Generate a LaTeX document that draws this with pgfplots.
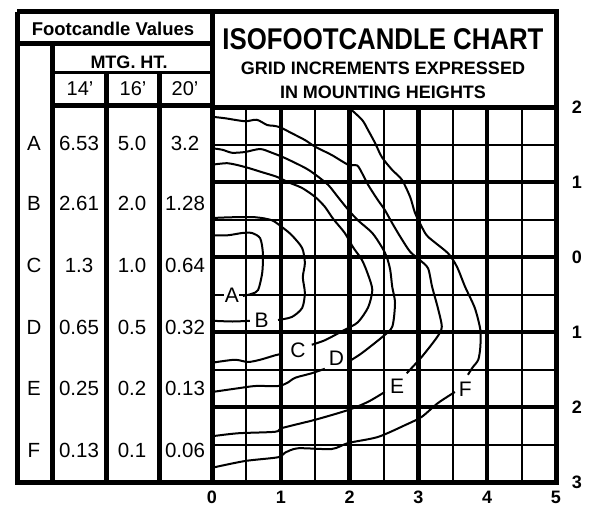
\documentclass[border=0pt]{standalone}
\usepackage{graphicx}
\usepackage{pgfplots}
\pgfplotsset{compat=1.18}
\usepackage{fontspec}
\setmainfont{Liberation Sans}
\newcommand{\fs}[1]{\fontsize{#1}{#1}\selectfont}
\begin{document}
\begin{tikzpicture}
\fill[white] (0,0) rectangle (593pt,-508pt);
\useasboundingbox (0,0) rectangle (593pt,-508pt);
\begin{axis}[
  scale only axis, width=344pt, height=375pt,
  at={(212pt,-482pt)}, anchor=south west,
  xmin=0, xmax=5, ymin=-3, ymax=2,
  xtick={0,1,2,3,4,5}, xticklabels={0,1,2,3,4,5},
  ytick={-3,-2,-1,0,1,2}, yticklabels={3,2,1,0,1,2},
  minor xtick={0.5,1.5,2.5,3.5,4.5},
  minor ytick={-2.5,-1.5,-0.5,0.5,1.5},
  grid=both,
  major grid style={line width=4.5pt, black},
  minor grid style={line width=2pt, black},
  axis line style={line width=5pt, black},
  tick style={draw=none},
  yticklabel pos=right,
  /pgf/number format/assume math mode=true,
  ticklabel style={font=\bfseries\fs{18}},
  xticklabel style={anchor=center, yshift=-15pt},
  yticklabel style={anchor=center, xshift=21pt},
  ct/.style={line width=2pt, black, solid, smooth, tension=0.45, mark=none},
]
% A
\addplot[ct] coordinates {(0,0.29) (0.23,0.29) (0.44,0.32) (0.58,0.32) (0.70,0.25) (0.74,0.05) (0.73,-0.21) (0.67,-0.44) (0.58,-0.49) (0.45,-0.52)};
\addplot[ct] coordinates {(0,-0.51) (0.11,-0.51)};
% B
\addplot[ct] coordinates {(0,0.52) (0.29,0.53) (0.63,0.53) (0.87,0.49) (1.03,0.39) (1.16,0.29) (1.31,0.12) (1.35,-0.08) (1.32,-0.27) (1.35,-0.48) (1.31,-0.68) (1.16,-0.80) (0.96,-0.84)};
\addplot[ct] coordinates {(0,-0.85) (0.3,-0.86) (0.55,-0.85)};
% C
\addplot[ct] coordinates {(0,1.23) (0.23,1.25) (0.48,1.20) (0.73,1.13) (0.94,1.07) (1.10,1.00) (1.31,0.92) (1.50,0.80) (1.64,0.67) (1.76,0.51) (1.93,0.32) (2.05,0.13) (2.18,-0.04) (2.27,-0.24) (2.33,-0.44) (2.27,-0.67) (2.12,-0.87) (1.93,-0.97) (1.64,-1.11) (1.45,-1.17)};
\addplot[ct] coordinates {(1.02,-1.29) (0.92,-1.31) (0.70,-1.37) (0.52,-1.40) (0.33,-1.37) (0,-1.41)};
% D
\addplot[ct] coordinates {(0,1.45) (0.15,1.43) (0.29,1.39) (0.48,1.40) (0.70,1.44) (0.87,1.39) (1.06,1.32) (1.35,1.19) (1.50,1.10) (1.69,0.96) (1.83,0.80) (1.98,0.63) (2.12,0.49) (2.33,0.32) (2.47,0.13) (2.54,0) (2.59,-0.17) (2.62,-0.40) (2.66,-0.61) (2.62,-0.93) (2.47,-1.07) (2.18,-1.28) (2.03,-1.37)};
\addplot[ct] coordinates {(1.64,-1.49) (1.45,-1.55) (1.21,-1.61) (1.09,-1.68) (0.96,-1.72) (0.63,-1.72) (0.38,-1.75) (0,-1.80)};
% E
\addplot[ct] coordinates {(0,1.87) (0.19,1.85) (0.48,1.81) (0.65,1.83) (0.80,1.76) (0.89,1.75) (0.99,1.73) (1.16,1.65) (1.35,1.56) (1.50,1.47) (1.74,1.36) (1.98,1.23) (2.11,1.22) (2.18,1.12) (2.27,0.96) (2.41,0.76) (2.51,0.63) (2.62,0.45) (2.75,0.25) (2.88,0.07) (3.02,-0.04) (3.14,-0.15) (3.20,-0.40) (3.28,-0.67) (3.34,-0.93) (3.27,-1.07) (3.05,-1.33) (2.83,-1.55)};
\addplot[ct] coordinates {(2.51,-1.80) (2.27,-1.93) (1.98,-2.04) (1.50,-2.17) (1.02,-2.28) (0.92,-2.33) (0.38,-2.35) (0,-2.39)};
% F
\addplot[ct] coordinates {(1.98,2.0) (2.18,1.83) (2.27,1.69) (2.37,1.52) (2.47,1.33) (2.62,1.16) (2.76,1.03) (2.88,0.80) (2.95,0.59) (3.05,0.40) (3.14,0.27) (3.43,0.05) (3.56,-0.13) (3.68,-0.40) (3.82,-0.68) (3.90,-0.97) (3.90,-1.20) (3.87,-1.37) (3.79,-1.47) (3.72,-1.57)};
\addplot[ct] coordinates {(3.53,-1.80) (3.28,-1.95) (3.05,-2.13) (2.81,-2.24) (2.41,-2.40) (1.98,-2.48) (1.74,-2.56) (1.25,-2.55) (1.06,-2.61) (0.96,-2.67) (0.48,-2.72) (0,-2.81)};
% labels
\begin{scope}[every node/.style={fill=white, inner sep=0.5pt, font=\fs{21}}]
\node at (axis cs:0.29,-0.51) {A};
\node at (axis cs:0.72,-0.85) {B};
\node at (axis cs:1.25,-1.25) {C};
\node at (axis cs:1.81,-1.35) {D};
\node at (axis cs:2.69,-1.73) {E};
\node at (axis cs:3.68,-1.77) {F};
\end{scope}
\end{axis}
\begin{scope}[x=1pt, y=-1pt, line width=5pt]
  % table frame
  \draw (17,12) -- (212,12);
  \draw (17,12) -- (17,482) -- (212,482);
  \draw (17,44) -- (212,44);
  \draw (52.5,44) -- (52.5,482);
  \draw[line width=3.5pt] (52.5,72.5) -- (212,72.5);
  \draw (52.5,105) -- (212,105);
  \draw (106,72.5) -- (106,482);
  \draw (159.5,72.5) -- (159.5,482);
  \draw (212,12) -- (212,482);
  % title box
  \draw (212,12) -- (556,12) -- (556,107);
  % header texts
  \node[font=\bfseries\fs{18.5}] at (113,29) {Footcandle Values};
  \node[font=\bfseries\fs{18}] at (129,62) {MTG. HT.};
  \node[font=\fs{20}] at (80,89) {14’};
  \node[font=\fs{20}] at (133,89) {16’};
  \node[font=\fs{20}] at (185,89) {20’};
  % rows
  \foreach \l/\a/\b/\c/\y in {A/6.53/5.0/3.2/143, B/2.61/2.0/1.28/203, C/1.3/1.0/0.64/265, D/0.65/0.5/0.32/327, E/0.25/0.2/0.13/388, F/0.13/0.1/0.06/450}{
    \node[font=\fs{20.5}] at (34,\y) {\l};
    \node[font=\fs{20.5}] at (79,\y) {\a};
    \node[font=\fs{20.5}] at (132,\y) {\b};
    \node[font=\fs{20.5}] at (185,\y) {\c};
  }
  % title
  \node[font=\bfseries\fs{30}] at (383,39) {\scalebox{0.86}[1]{ISOFOOTCANDLE CHART}};
  \node[font=\bfseries\fs{18}] at (383,68) {GRID INCREMENTS EXPRESSED};
  \node[font=\bfseries\fs{18}] at (383,92) {IN MOUNTING HEIGHTS};
\end{scope}
\end{tikzpicture}
\end{document}
